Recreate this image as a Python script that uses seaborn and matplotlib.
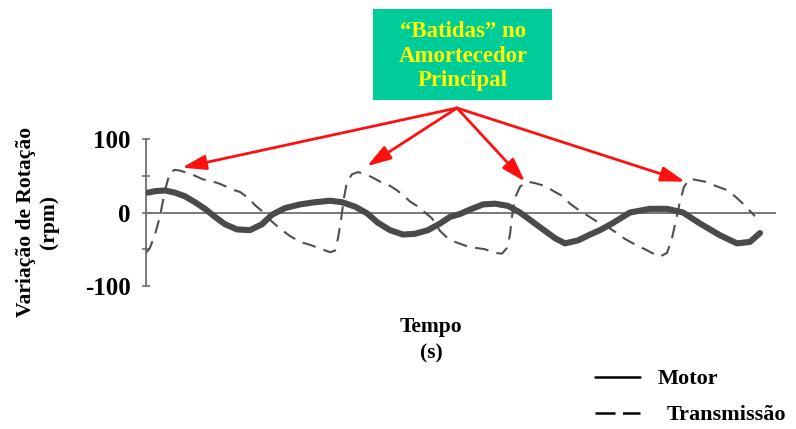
import numpy as np
import pandas as pd
import matplotlib
matplotlib.use("Agg")
import matplotlib.pyplot as plt
from matplotlib.lines import Line2D
import seaborn as sns

# ---------------- data (time in arbitrary units, rpm variation) ----------------
motor_t = [148, 155, 165, 175, 185, 195, 205, 215, 225, 237, 250, 262, 272, 285, 300,
           315, 330, 342, 355, 367, 378, 390, 403, 415, 428, 440, 450, 460, 470, 483,
           495, 508, 520, 532, 545, 555, 565, 578, 590, 600, 612, 630, 650, 667, 683,
           700, 720, 737, 750, 760]
motor_v = [27, 29, 30, 27, 22, 14, 5, -6, -16, -23, -24, -16, -3, 6, 11,
           14, 16, 14, 8, -1, -14, -24, -30, -29, -24, -15, -6, -2, 4, 11,
           12, 9, 0, -12, -25, -35, -42, -38, -30, -24, -15, 0, 5, 5, 0,
           -15, -31, -42, -40, -28]

trans_t = [146, 150, 155, 160, 165, 170, 175, 180, 187, 195, 203, 210, 218, 225, 233,
           240, 248, 255, 262, 270, 280, 290, 300, 310, 320, 330, 335, 338, 341, 344,
           347, 352, 358, 365, 372, 380, 388, 395, 402, 410, 418, 425, 432, 440, 447,
           455, 465, 475, 485, 495, 502, 507, 510, 512, 515, 520, 527, 535, 545, 555,
           563, 570, 577, 585, 592, 600, 608, 617, 625, 637, 645, 652, 660, 667, 672,
           676, 680, 684, 690, 697, 705, 712, 720, 728, 735, 743, 750, 755]
trans_v = [-55, -48, -30, -5, 30, 55, 58, 57, 54, 50, 45, 43, 40, 36, 31,
           28, 20, 10, 2, -10, -22, -32, -40, -44, -49, -54, -52, -35, -10, 20,
           42, 52, 55, 52, 48, 42, 38, 32, 25, 15, 8, 0, -8, -25, -34,
           -40, -45, -48, -50, -55, -56, -48, -30, -5, 20, 35, 42, 40, 36, 28,
           22, 12, 5, -2, -8, -15, -20, -28, -36, -45, -50, -55, -60, -55, -35,
           -10, 15, 35, 46, 44, 42, 38, 34, 30, 22, 12, 2, -5]

# annotated "batidas" (arrow tips)
batida_t = [182, 367, 525, 685]
batida_v = [61, 63, 42, 42]

yticks = [-100, 0, 100]
ytick_labels = ["-100", "0", "100"]

# ---------------- figure ----------------
sns.set_theme(style="white")
plt.rcParams["font.family"] = ["Liberation Serif", "DejaVu Serif"]
plt.rcParams["font.weight"] = "bold"
plt.rcParams["text.color"] = "black"
plt.rcParams["ytick.color"] = "black"

W, H = 796, 429
fig = plt.figure(figsize=(W / 100, H / 100), dpi=100)

def fx(x):
    return x / W

def fy(y):
    return 1 - y / H

# axes: x from 146 to 776 px, y from 139 (100) to 286 (-100)
ax = fig.add_axes([fx(146), fy(286), fx(776) - fx(146), fy(139) - fy(286)])
ax.set_xlim(146, 776)
ax.set_ylim(-100, 100)
ax.patch.set_alpha(0)

df_m = pd.DataFrame({"t": motor_t, "v": motor_v})
df_t = pd.DataFrame({"t": trans_t, "v": trans_v})

ax.axhline(0, color="#6e6e6e", lw=1.3, zorder=1)

sns.lineplot(data=df_t, x="t", y="v", ax=ax, color="#4f4f4f", lw=1.5,
             linestyle=(0, (6.5, 4)), estimator=None, sort=False, zorder=2)
sns.lineplot(data=df_m, x="t", y="v", ax=ax, color="#4a4a4a", lw=4.4,
             estimator=None, sort=False, zorder=3)

for s in ["top", "right", "bottom"]:
    ax.spines[s].set_visible(False)
ax.spines["left"].set_color("#6e6e6e")
ax.spines["left"].set_linewidth(1.3)
ax.set_xticks([])
ax.set_yticks(yticks)
ax.set_yticklabels(ytick_labels)
ax.set_yticks([-50, 50], minor=True)
ax.tick_params(axis="y", which="both", direction="inout", length=6, width=1.2,
               color="#6e6e6e", labelcolor="black", labelsize=18, pad=8, left=True)
for lab in ax.get_yticklabels():
    lab.set_fontweight("bold")
ax.set_xlabel("")
ax.set_ylabel("")

# axis titles
fig.text(fx(26), fy(222), "Variação de Rotação", rotation=90, ha="center", va="center",
         fontsize=15.5, fontweight="bold")
fig.text(fx(49), fy(222), "(rpm)", rotation=90, ha="center", va="center",
         fontsize=15.5, fontweight="bold")
fig.text(fx(431), fy(327), "Tempo", ha="center", va="center", fontsize=15.5, fontweight="bold")
fig.text(fx(431), fy(353), "(s)", ha="center", va="center", fontsize=15.5, fontweight="bold")

# annotation box
box = plt.Rectangle((fx(373), fy(100)), fx(552) - fx(373), fy(9) - fy(100),
                    transform=fig.transFigure, facecolor="#00CC99", edgecolor="none")
fig.patches.append(box)
fig.text(fx(463), fy(56), "“Batidas” no\nAmortecedor\nPrincipal", ha="center", va="center",
         fontsize=16.5, fontweight="bold", color="#FFFF00", linespacing=1.2)

for t, v in zip(batida_t, batida_v):
    ax.annotate("", xy=(t, v), xycoords="data",
                xytext=(fx(457), fy(108)), textcoords="figure fraction",
                arrowprops=dict(arrowstyle="-|>,head_length=0.8,head_width=0.25",
                                color="#FF1010", lw=2,
                                mutation_scale=18, shrinkA=0, shrinkB=0),
                annotation_clip=False)

# legend (manual)
fig.lines.append(Line2D([fx(595), fx(640)], [fy(377), fy(377)], transform=fig.transFigure,
                        color="black", lw=1.8))
fig.lines.append(Line2D([fx(595), fx(640)], [fy(413), fy(413)], transform=fig.transFigure,
                        color="black", lw=1.8, linestyle=(0, (8, 3))))
fig.text(fx(658), fy(379), "Motor", ha="left", va="center", fontsize=16, fontweight="bold")
fig.text(fx(667), fy(415), "Transmissão", ha="left", va="center", fontsize=16, fontweight="bold")

fig.savefig("out.png", dpi=100)
